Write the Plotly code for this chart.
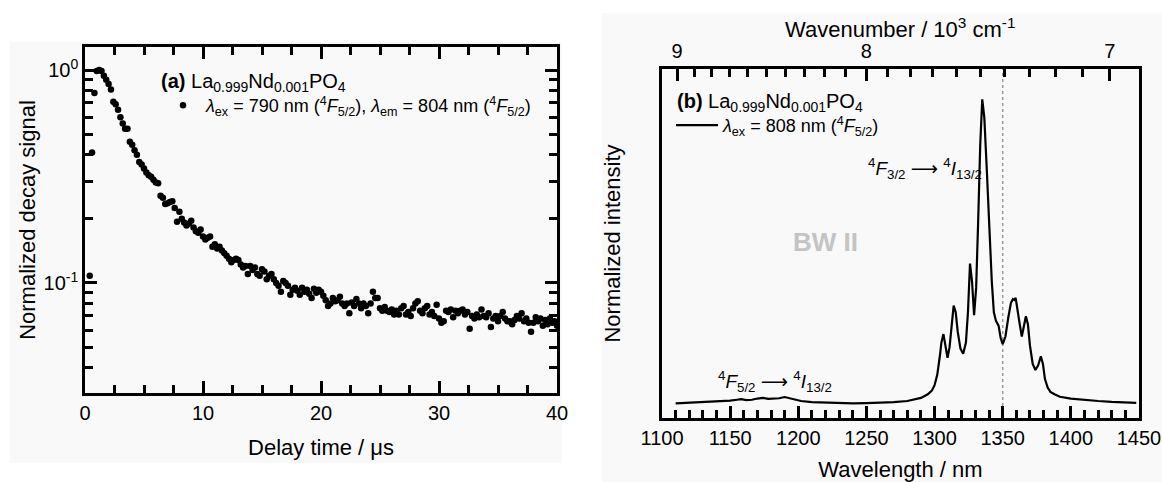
import plotly.graph_objects as go

# ---------------- data: panel (a) decay ----------------
delay_us = [0.4, 0.6, 0.8, 1.0, 1.2, 1.4, 1.6, 1.8, 2.0, 2.2, 2.4, 2.6, 2.8, 3.0, 3.2, 3.4, 3.6, 3.8, 4.0,
            4.2, 4.4, 4.6, 4.8, 5.0, 5.2, 5.4, 5.6, 5.8, 6.0, 6.2, 6.4, 6.6, 6.8, 7.0, 7.2, 7.4, 7.6, 7.8, 8.0,
            8.2, 8.4, 8.6, 8.8, 9.0, 9.2, 9.4, 9.6, 9.8, 10.0, 10.2, 10.4, 10.6, 10.8, 11.0, 11.2, 11.4, 11.6,
            11.8, 12.0, 12.2, 12.4, 12.6, 12.8, 13.0, 13.2, 13.4, 13.6, 13.8, 14.0, 14.2, 14.4, 14.6, 14.8,
            15.0, 15.2, 15.4, 15.6, 15.8, 16.0, 16.2, 16.4, 16.6, 16.8, 17.0, 17.2, 17.4, 17.6, 17.8, 18.0,
            18.2, 18.4, 18.6, 18.8, 19.0, 19.2, 19.4, 19.6, 19.8, 20.0, 20.2, 20.4, 20.6, 20.8, 21.0, 21.2,
            21.4, 21.6, 21.8, 22.0, 22.2, 22.4, 22.6, 22.8, 23.0, 23.2, 23.4, 23.6, 23.8, 24.0, 24.2, 24.4,
            24.6, 24.8, 25.0, 25.2, 25.4, 25.6, 25.8, 26.0, 26.2, 26.4, 26.6, 26.8, 27.0, 27.2, 27.4, 27.6,
            27.8, 28.0, 28.2, 28.4, 28.6, 28.8, 29.0, 29.2, 29.4, 29.6, 29.8, 30.0, 30.2, 30.4, 30.6, 30.8,
            31.0, 31.2, 31.4, 31.6, 31.8, 32.0, 32.2, 32.4, 32.6, 32.8, 33.0, 33.2, 33.4, 33.6, 33.8, 34.0,
            34.2, 34.4, 34.6, 34.8, 35.0, 35.2, 35.4, 35.6, 35.8, 36.0, 36.2, 36.4, 36.6, 36.8, 37.0, 37.2,
            37.4, 37.6, 37.8, 38.0, 38.2, 38.4, 38.6, 38.8, 39.0, 39.2, 39.4, 39.6, 39.8, 40.0]
decay_signal = [0.108, 0.41, 0.78, 0.99, 1.0, 0.99, 0.94, 0.90, 0.86, 0.81, 0.71, 0.69, 0.65, 0.60, 0.56,
                0.53, 0.53, 0.46, 0.445, 0.42, 0.40, 0.37, 0.36, 0.345, 0.33, 0.32, 0.315, 0.305, 0.296,
                0.294, 0.257, 0.251, 0.235, 0.237, 0.24, 0.242, 0.225, 0.194, 0.216, 0.20, 0.192, 0.186,
                0.19, 0.196, 0.182, 0.175, 0.172, 0.178, 0.165, 0.16, 0.163, 0.165, 0.148, 0.152, 0.145,
                0.148, 0.142, 0.138, 0.134, 0.13, 0.125, 0.128, 0.13, 0.128, 0.122, 0.118, 0.12, 0.11,
                0.12, 0.115, 0.118, 0.11, 0.108, 0.116, 0.113, 0.104, 0.108, 0.11, 0.104, 0.10, 0.097,
                0.091, 0.102, 0.10, 0.097, 0.088, 0.093, 0.095, 0.092, 0.088, 0.095, 0.091, 0.093, 0.089,
                0.085, 0.094, 0.09, 0.093, 0.091, 0.087, 0.083, 0.078, 0.08, 0.085, 0.082, 0.083, 0.086,
                0.08, 0.078, 0.08, 0.072, 0.081, 0.078, 0.084, 0.08, 0.076, 0.08, 0.078, 0.072, 0.08,
                0.091, 0.085, 0.085, 0.076, 0.074, 0.077, 0.074, 0.073, 0.075, 0.071, 0.074, 0.071, 0.076,
                0.078, 0.071, 0.073, 0.07, 0.076, 0.08, 0.082, 0.074, 0.072, 0.076, 0.078, 0.071, 0.073,
                0.07, 0.079, 0.068, 0.065, 0.066, 0.074, 0.073, 0.075, 0.069, 0.074, 0.072, 0.074, 0.075,
                0.071, 0.073, 0.061, 0.07, 0.068, 0.071, 0.069, 0.075, 0.07, 0.069, 0.072, 0.062, 0.068,
                0.07, 0.066, 0.07, 0.073, 0.068, 0.066, 0.066, 0.064, 0.067, 0.07, 0.068, 0.072, 0.066,
                0.068, 0.065, 0.059, 0.065, 0.069, 0.066, 0.068, 0.063, 0.067, 0.064, 0.068, 0.065, 0.066,
                0.063]

# ---------------- data: panel (b) emission spectrum ----------------
wavelength_nm = [1110, 1120, 1130, 1140, 1150, 1155, 1158, 1162, 1166, 1170, 1174, 1178, 1182, 1186, 1190,
                 1194, 1198, 1202, 1210, 1220, 1230, 1240, 1250, 1260, 1270, 1280, 1285, 1290, 1295, 1298,
                 1300, 1302, 1304, 1305, 1306.5, 1308, 1309.5, 1311, 1312.5, 1314, 1315.5, 1317, 1319, 1321,
                 1323, 1324.5, 1326, 1327.5, 1329, 1330.5, 1332, 1333.5, 1335, 1336.5, 1338, 1340, 1342,
                 1343.5, 1345, 1347, 1348.5, 1350, 1352, 1354, 1356, 1357.5, 1358.5, 1359.5, 1361, 1362.5,
                 1364, 1365.5, 1367, 1368.5, 1370, 1372, 1374, 1376, 1378, 1379.5, 1381, 1383, 1385, 1388,
                 1392, 1400, 1410, 1420, 1430, 1440, 1448]
intensity = [0.000, 0.002, 0.003, 0.005, 0.009, 0.012, 0.014, 0.011, 0.012, 0.016, 0.018, 0.015, 0.016,
             0.017, 0.021, 0.016, 0.012, 0.008, 0.004, 0.002, 0.001, 0.000, 0.001, 0.002, 0.004, 0.008,
             0.012, 0.018, 0.030, 0.042, 0.060, 0.095, 0.160, 0.200, 0.228, 0.185, 0.150, 0.185, 0.265,
             0.322, 0.300, 0.235, 0.180, 0.163, 0.200, 0.300, 0.460, 0.400, 0.290, 0.380, 0.600, 0.850,
             1.000, 0.940, 0.800, 0.580, 0.400, 0.300, 0.272, 0.255, 0.215, 0.195, 0.220, 0.280, 0.330,
             0.343, 0.340, 0.347, 0.310, 0.260, 0.220, 0.260, 0.287, 0.260, 0.190, 0.130, 0.110, 0.125,
             0.155, 0.130, 0.080, 0.052, 0.038, 0.030, 0.022, 0.016, 0.011, 0.008, 0.005, 0.003, 0.002]

# top axis: wavenumber in 10^3 cm^-1
wn_major = [9, 8, 7]
wn_minor = [8.9, 8.8, 8.7, 8.6, 8.5, 8.4, 8.3, 8.2, 8.1, 7.9, 7.8, 7.7, 7.6, 7.5, 7.4, 7.3, 7.2, 7.1, 6.9]
marker_line_nm = 1350

# decay axis ticks
decay_x_major = [0, 10, 20, 30, 40]
decay_y_major = [0.1, 1]
decay_y_major_text = ["10<sup>-1</sup>", "10<sup>0</sup>"]
decay_y_minor = [0.04, 0.05, 0.06, 0.07, 0.08, 0.09, 0.2, 0.3, 0.4, 0.5, 0.6, 0.7, 0.8, 0.9]

FONT = "Arial, 'Liberation Sans', sans-serif"
W, H = 1162, 482
BG = "#f9f9f9"
ARROW = "<span style=\"font-family:'DejaVu Sans'\">⟶</span>"
TICK = "#000000"


def px_x(v):
    return v / W


def px_y(v):
    return 1 - v / H


fig = go.Figure()

fig.add_trace(go.Scatter(
    x=delay_us, y=decay_signal, mode="markers",
    marker=dict(color="black", size=6.5),
    name="<i>λ</i><sub>ex</sub> = 790 nm (<sup>4</sup><i>F</i><sub>5/2</sub>), "
         "<i>λ</i><sub>em</sub> = 804 nm (<sup>4</sup><i>F</i><sub>5/2</sub>)",
    xaxis="x", yaxis="y", legend="legend", showlegend=True,
))

fig.add_trace(go.Scatter(
    x=wavelength_nm, y=intensity, mode="lines",
    line=dict(color="black", width=2.2),
    name="<i>λ</i><sub>ex</sub> = 808 nm (<sup>4</sup><i>F</i><sub>5/2</sub>)",
    xaxis="x2", yaxis="y2", legend="legend2", showlegend=True,
))
# invisible copy to anchor the top (wavenumber) axis
fig.add_trace(go.Scatter(
    x=wavelength_nm, y=intensity, mode="lines", line=dict(width=0),
    opacity=0, hoverinfo="skip", showlegend=False, xaxis="x3", yaxis="y2",
))

tickfont = dict(family=FONT, size=20, color="black")
titlefont = dict(family=FONT, size=22, color="black")
major_ticks = dict(ticks="inside", ticklen=12, tickwidth=3, tickcolor=TICK)
minor_ticks = dict(ticks="inside", ticklen=8, tickwidth=3, tickcolor=TICK, showgrid=False)

left_dom_x = [px_x(85), px_x(557)]
left_dom_y = [px_y(393), px_y(47)]
right_dom_x = [px_x(662), px_x(1139)]
right_dom_y = [px_y(418), px_y(69)]

fig.update_layout(
    width=W, height=H,
    margin=dict(l=0, r=0, t=0, b=0, autoexpand=False),
    paper_bgcolor="white", plot_bgcolor=BG,
    font=dict(family=FONT, color="black"),
    xaxis=dict(domain=left_dom_x, anchor="y", range=[0, 40], automargin=False,
               showline=True, linecolor="black", linewidth=2.5, mirror="allticks",
               showgrid=False, zeroline=False, **major_ticks,
               tickmode="array", tickvals=decay_x_major,
               minor=dict(**minor_ticks, dtick=2.5, tick0=0),
               tickfont=tickfont,
               title=dict(text="Delay time / μs", font=titlefont, standoff=17)),
    yaxis=dict(domain=left_dom_y, anchor="x", type="log", range=[-1.517, 0.108], automargin=False,
               showline=True, linecolor="black", linewidth=2.5, mirror="allticks",
               showgrid=False, zeroline=False, **major_ticks,
               tickmode="array", tickvals=decay_y_major, ticktext=decay_y_major_text,
               minor=dict(**minor_ticks, tickmode="array", tickvals=decay_y_minor),
               tickfont=tickfont,
               title=dict(text="Normalized decay signal", font=titlefont, standoff=2)),
    xaxis2=dict(domain=right_dom_x, anchor="y2", range=[1100, 1450], automargin=False,
                showline=True, linecolor="black", linewidth=2.5,
                showgrid=False, zeroline=False, **major_ticks,
                tickmode="linear", tick0=1100, dtick=50,
                minor=dict(**minor_ticks, dtick=10),
                tickfont=tickfont,
                title=dict(text="Wavelength / nm", font=titlefont, standoff=18)),
    xaxis3=dict(overlaying="x2", anchor="y2", side="top", range=[1100, 1450], automargin=False,
                showline=True, linecolor="black", linewidth=2.5,
                showgrid=False, zeroline=False, **major_ticks,
                tickmode="array", tickvals=[1e4 / v for v in wn_major], ticktext=[str(v) for v in wn_major],
                minor=dict(**minor_ticks, tickmode="array", tickvals=[1e4 / v for v in wn_minor]),
                tickfont=tickfont),
    yaxis2=dict(showline=True, linecolor="black", linewidth=2.5, mirror=True, ticks="",
                showticklabels=False, showgrid=False, zeroline=False, automargin=False,
                domain=right_dom_y, anchor="x2", range=[-0.048, 1.10],
                title=dict(text="Normalized intensity", font=titlefont, standoff=33)),
    legend=dict(x=px_x(160), y=px_y(87), xanchor="left", yanchor="top", itemwidth=36,
                bgcolor="rgba(0,0,0,0)", font=dict(family=FONT, size=18)),
    legend2=dict(x=px_x(671), y=px_y(107), xanchor="left", yanchor="top", itemwidth=42,
                 bgcolor="rgba(0,0,0,0)", font=dict(family=FONT, size=18)),
    shapes=[
        dict(type="rect", xref="paper", yref="paper", x0=px_x(10), x1=px_x(562), y0=px_y(463), y1=px_y(42),
             fillcolor=BG, line=dict(width=0), layer="below"),
        dict(type="rect", xref="paper", yref="paper", x0=px_x(602), x1=1, y0=0, y1=px_y(13),
             fillcolor=BG, line=dict(width=0), layer="below"),
        dict(type="line", xref="x2", yref="y2 domain", x0=marker_line_nm, x1=marker_line_nm, y0=0, y1=1,
             line=dict(color="#999999", width=1.5, dash="dot"), layer="below"),
    ],
    annotations=[
        dict(text="Wavenumber / 10<sup>3</sup> cm<sup>-1</sup>", xref="paper", yref="paper",
             x=(right_dom_x[0] + right_dom_x[1]) / 2, y=px_y(28), xanchor="center", yanchor="middle",
             showarrow=False, font=titlefont),
        dict(text="<b>(a)</b> La<sub>0.999</sub>Nd<sub>0.001</sub>PO<sub>4</sub>",
             xref="paper", yref="paper", x=px_x(159), y=px_y(82), xanchor="left", yanchor="middle",
             showarrow=False, font=dict(family=FONT, size=20)),
        dict(text="<b>(b)</b> La<sub>0.999</sub>Nd<sub>0.001</sub>PO<sub>4</sub>",
             xref="paper", yref="paper", x=px_x(675), y=px_y(102), xanchor="left", yanchor="middle",
             showarrow=False, font=dict(family=FONT, size=20)),
        dict(text="<sup>4</sup><i>F</i><sub>3/2</sub> " + ARROW + " <sup>4</sup><i>I</i><sub>13/2</sub>",
             xref="paper", yref="paper", x=px_x(925), y=px_y(168), xanchor="center", yanchor="middle",
             showarrow=False, font=dict(family=FONT, size=19)),
        dict(text="<sup>4</sup><i>F</i><sub>5/2</sub> " + ARROW + " <sup>4</sup><i>I</i><sub>13/2</sub>",
             xref="paper", yref="paper", x=px_x(775), y=px_y(381), xanchor="center", yanchor="middle",
             showarrow=False, font=dict(family=FONT, size=19)),
        dict(text="<b>BW II</b>", xref="paper", yref="paper", x=px_x(825), y=px_y(242),
             xanchor="center", yanchor="middle", showarrow=False,
             font=dict(family=FONT, size=26, color="#c4c4c4")),
    ],
)

fig.write_html("out.html")
